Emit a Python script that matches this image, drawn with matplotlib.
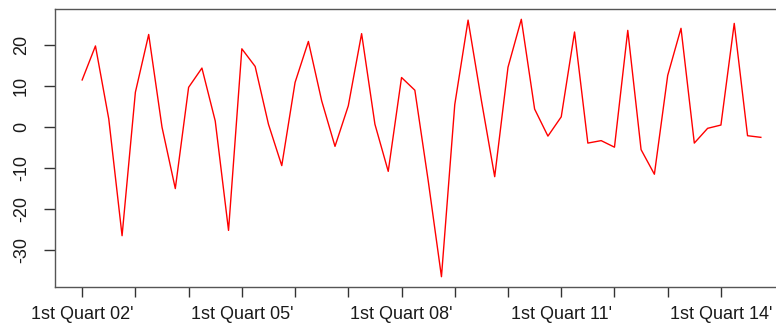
import numpy as np
import matplotlib
matplotlib.use("Agg")
import matplotlib.pyplot as plt

plt.rcParams['font.family'] = ['Liberation Sans', 'DejaVu Sans']

# Quarterly growth values, 2002 Q1 .. 2014 Q4
years = list(range(2002, 2015))
quarters = ["Q1", "Q2", "Q3", "Q4"]
growth = [
    11.5, 19.8, 2.0, -26.5,
    8.5, 22.6, 0.0, -15.0,
    9.7, 14.4, 1.5, -25.2,
    19.1, 14.8, 0.7, -9.4,
    10.9, 20.9, 6.4, -4.7,
    5.2, 22.8, 0.7, -10.8,
    12.1, 9.0, -13.0, -36.5,
    5.5, 26.1, 6.5, -12.1,
    14.6, 26.3, 4.4, -2.2,
    2.5, 23.2, -3.9, -3.3,
    -4.9, 23.6, -5.5, -11.5,
    12.6, 24.1, -3.9, -0.3,
    0.5, 25.3, -2.1, -2.5,
]
year_labels = ["1st Quart %02d'" % (y % 100) for y in years]
label_every = 3
y_ticks = [-30, -20, -10, 0, 10, 20]

W, H = 776, 324
fig = plt.figure(figsize=(W / 100, H / 100), dpi=100)
# plot region: the right edge runs past the figure border
left, top, bottom, right = 55, 9, 287, 788
ax = fig.add_axes([left / W, 1 - bottom / H, (right - left) / W, (bottom - top) / H])

x = np.arange(len(growth))
ax.plot(x, growth, color="#ff0000", lw=1.0)

n = len(growth) - 1
pad_x = 0.04 * n
ax.set_xlim(-pad_x, n + pad_x)
lo, hi = min(growth), max(growth)
pad_y = 0.04 * (hi - lo)
ax.set_ylim(lo - pad_y, hi + pad_y)

text_color = "#1a1a1a"
tick_pos = [4 * i for i in range(len(years))]
ax.set_xticks(tick_pos)
ax.set_xticklabels([lab if i % label_every == 0 else "" for i, lab in enumerate(year_labels)],
                   fontsize=13, color=text_color)
ax.tick_params(axis="x", length=7, width=1.0, color="#333333", pad=7)

ax.set_yticks(y_ticks)
ax.set_yticklabels([str(v) for v in y_ticks], rotation=90, va="center",
                   fontsize=13, color=text_color)
ax.tick_params(axis="y", length=8, width=1.0, color="#333333", pad=10)

for side in ("top", "left", "bottom", "right"):
    ax.spines[side].set_color("#555555")
    ax.spines[side].set_linewidth(1.0)

fig.savefig("out.png", dpi=100)
